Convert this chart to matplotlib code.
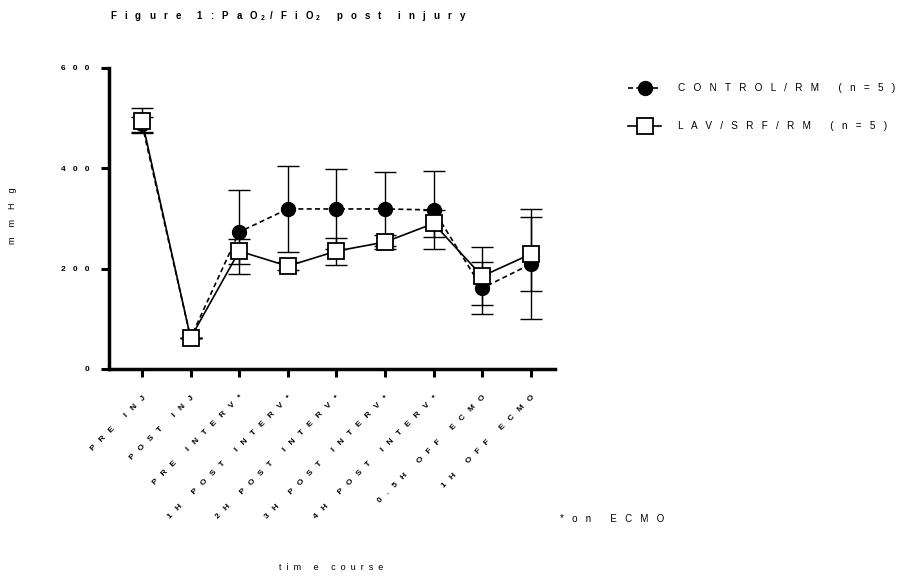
import numpy as np
import matplotlib
matplotlib.use("Agg")
import matplotlib.pyplot as plt

plt.rcParams['font.family'] = ['Liberation Sans', 'DejaVu Sans']
plt.rcParams['mathtext.fontset'] = 'custom'
plt.rcParams['mathtext.rm'] = 'Liberation Sans:bold'
plt.rcParams['mathtext.it'] = 'Liberation Sans:bold'
plt.rcParams['mathtext.bf'] = 'Liberation Sans:bold'

# time points
labels = ['PRE INJ', 'POST INJ', 'PRE INTERV*', '1H POST INTERV*', '2H POST INTERV*',
          '3H POST INTERV*', '4H POST INTERV*', '0.5H OFF ECMO', '1H OFF ECMO']

# CONTROL/RM (n=5)
control_mean = [488, 62, 273, 319, 319, 319, 317, 161, 209]
control_err = [15, 0, 84, 85, 80, 74, 77, 52, 110]

# LAV/SRF/RM (n=5)
lav_mean = [495, 62, 235, 205, 235, 253, 290, 185, 229]
lav_err = [25, 0, 25, 8, 27, 14, 26, 58, 74]

yticks = [0, 200, 400, 600]


def spaced(s, n=2):
    # wide letter spacing like the original export
    gap = ' ' * n
    words = s.split(' ')
    return (' ' * (2 * n + 1)).join(gap.join(w) for w in words)


fig = plt.figure(figsize=(9.13, 5.77), dpi=100)
ax = fig.add_axes([0.1194, 0.3605, 0.4885, 0.5217])

x = np.arange(len(labels))

ax.errorbar(x, control_mean, yerr=control_err, fmt='none', ecolor='black',
            elinewidth=1.0, capsize=8, capthick=1.0, zorder=2)
ax.errorbar(x, lav_mean, yerr=lav_err, fmt='none', ecolor='black',
            elinewidth=1.0, capsize=8, capthick=1.0, zorder=2)

ax.plot(x, control_mean, color='black', linestyle=(0, (3, 2)), linewidth=1.2,
        marker='o', markersize=10, markerfacecolor='black', markeredgecolor='black',
        zorder=3, label=spaced('CONTROL/RM (n=5)', 3))
ax.plot(x, lav_mean, color='black', linestyle='-', linewidth=1.2,
        marker='s', markersize=11, markerfacecolor='white', markeredgecolor='black',
        markeredgewidth=1.3, zorder=4, label=spaced('LAV/SRF/RM (n=5)', 3))

ax.set_xlim(-0.68, 8.5)
ax.set_ylim(0, 600)

for side in ['top', 'right']:
    ax.spines[side].set_visible(False)
for side in ['left', 'bottom']:
    ax.spines[side].set_linewidth(2.5)

ax.set_yticks(yticks)
ax.set_yticklabels([spaced(str(v), 3) for v in yticks], fontsize=6, fontweight='bold')
ax.set_xticks(x)
ax.set_xticklabels([spaced(l, 3) for l in labels], fontsize=6, fontweight='bold',
                   rotation=45, ha='right', va='top', rotation_mode='anchor')
ax.tick_params(axis='both', direction='out', length=6, width=2.2)
ax.tick_params(axis='y', pad=8)
ax.tick_params(axis='x', pad=12)

fig.text(0.014, 0.627, spaced('mmHg', 4), fontsize=6.5, rotation=90,
         ha='center', va='center')
fig.text(0.363, 0.016, spaced('tim e course', 2), fontsize=6.5,
         ha='center', va='center')

fig.text(0.316, 0.972,
         r'F   i   g   u   r   e      1   :   P   a   O $_{2}$  /   F   i   O $_{2}$      p   o   s   t      i   n   j   u   r   y',
         fontsize=7, fontweight='bold', ha='center', va='center')

fig.text(0.613, 0.101, spaced('*on ECMO', 3), fontsize=7, ha='left', va='center')

leg = ax.legend(loc='upper left', bbox_to_anchor=(628 / 913, 1 - 83 / 577),
                bbox_transform=fig.transFigure, frameon=False,
                fontsize=7.2, handlelength=3.3, handletextpad=1.7, labelspacing=2.8,
                borderaxespad=0, borderpad=0)

fig.savefig('out.png', dpi=100)
